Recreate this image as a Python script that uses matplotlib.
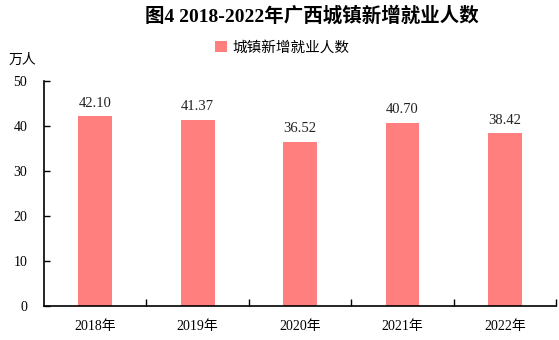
import matplotlib
matplotlib.use("Agg")
import matplotlib.pyplot as plt
from matplotlib.ticker import FixedLocator

years = ["2018年", "2019年", "2020年", "2021年", "2022年"]
values = [42.10, 41.37, 36.52, 40.70, 38.42]
series_name = "城镇新增就业人数"
title = "图4 2018-2022年广西城镇新增就业人数"
yticks = [0, 10, 20, 30, 40, 50]

serif = ["Liberation Serif", "DejaVu Serif", "Noto Sans CJK SC"]
cjk = ["Noto Sans CJK SC", "DejaVu Sans"]

fig = plt.figure(figsize=(5.59, 3.40), dpi=100)
ax = fig.add_axes([0.0787, 0.1, 0.916, 0.662])

color = "#FF7F7F"
x = list(range(len(years)))
bars = ax.bar(x, values, width=0.33, color=color, label=series_name)

for xi, v in zip(x, values):
    ax.text(xi, v + 1.4, f"{v:.2f}", ha="center", va="bottom",
            fontsize=10.5, family=serif, color="#222222")

ax.set_xlim(-0.5, 4.5)
ax.set_ylim(0, 50)
ax.set_yticks(yticks)
ax.set_yticklabels([str(t) for t in yticks], family=serif, fontsize=10)
ax.set_xticks(x)
ax.set_xticklabels(years, family=serif, fontsize=10)
ax.xaxis.set_minor_locator(FixedLocator([0.5, 1.5, 2.5, 3.5, 4.5]))
ax.tick_params(axis="x", which="major", length=0, pad=10)
ax.tick_params(axis="x", which="minor", length=5, direction="in", width=1)
ax.tick_params(axis="y", which="major", length=4, direction="in", width=1, pad=12)
for s in ["top", "right"]:
    ax.spines[s].set_visible(False)
for s in ["left", "bottom"]:
    ax.spines[s].set_linewidth(1.2)

fig.text(0.558, 0.953, title, ha="center", va="center", fontsize=14,
         fontweight="bold", family=["Liberation Serif", "Noto Sans CJK SC"])
fig.text(0.04, 0.825, "万人", ha="center", va="center", fontsize=10, family=cjk)

leg = fig.legend(handles=[bars], labels=[series_name], loc="center",
                 bbox_to_anchor=(0.505, 0.86), frameon=False,
                 prop={"family": cjk, "size": 10.5}, handlelength=0.8,
                 handleheight=0.8, handletextpad=0.4)

fig.savefig("out.png", dpi=100)
